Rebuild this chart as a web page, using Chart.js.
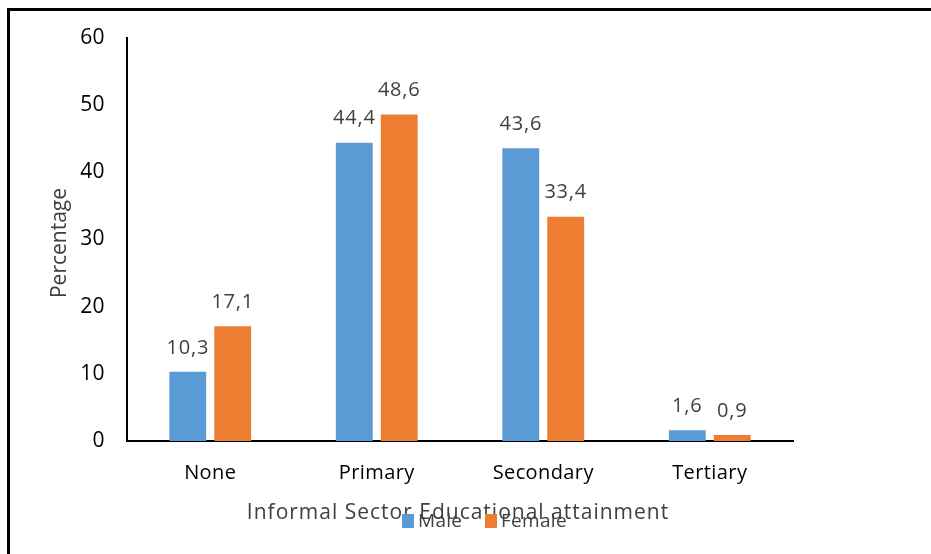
<!DOCTYPE html>
<html>
<head>
<meta charset="utf-8">
<script src="https://cdn.jsdelivr.net/npm/chart.js@4"></script>
<style>
  html, body { margin: 0; padding: 0; background: #fff; }
  #wrap { position: relative; width: 931px; height: 554px; overflow: hidden; }
  #frame { position: absolute; left: 7px; top: 8px; width: 1000px; height: 1000px; border: 3px solid #000; }
  canvas { position: absolute; left: 0; top: 0; }
</style>
</head>
<body>
<div id="wrap">
  <div id="frame"></div>
  <canvas id="chart" width="931" height="554"></canvas>
</div>
<script>
// ─── Data ──────────────────────────────────────
var categories = ['None', 'Primary', 'Secondary', 'Tertiary'];
var maleValues = [10.3, 44.4, 43.6, 1.6];
var femaleValues = [17.1, 48.6, 33.4, 0.9];
var yTicks = [0, 10, 20, 30, 40, 50, 60];
var seriesNames = ['Male', 'Female'];

var FONT = '"Open Sans", Lato, sans-serif';
var BLUE = '#5B9BD5';
var ORANGE = '#ED7D31';

function fmt(v) { return String(v).replace('.', ','); }

// Value labels, axis titles and the legend drawn on top
var decor = {
  id: 'decor',
  beforeDraw: function (chart) {
    // a little extra spacing, like the original's rendered text
    chart.ctx.letterSpacing = '0.4px';
  },
  afterDatasetsDraw: function (chart) {
    var ctx = chart.ctx;
    ctx.save();
    ctx.letterSpacing = '0.8px';
    ctx.fillStyle = '#404040';
    ctx.font = '20px ' + FONT;
    ctx.textAlign = 'center';
    ctx.textBaseline = 'middle';
    chart.data.datasets.forEach(function (ds, i) {
      var meta = chart.getDatasetMeta(i);
      meta.data.forEach(function (bar, j) {
        ctx.fillText(fmt(ds.data[j]), bar.x, bar.y - 24);
      });
    });
    ctx.restore();
  },
  afterDraw: function (chart) {
    var ctx = chart.ctx;
    ctx.save();
    ctx.fillStyle = '#404040';
    ctx.textBaseline = 'middle';
    ctx.textAlign = 'center';
    ctx.letterSpacing = '1px';
    ctx.font = '21px ' + FONT;
    ctx.fillText('Informal Sector Educational attainment', 458, 513);

    ctx.save();
    ctx.translate(60, 243);
    ctx.rotate(-Math.PI / 2);
    ctx.letterSpacing = '0px';
    ctx.fillText('Percentage', 0, 0);
    ctx.restore();

    // legend
    ctx.letterSpacing = '0.3px';
    ctx.font = '19px ' + FONT;
    ctx.textAlign = 'left';
    var colors = [BLUE, ORANGE];
    var xs = [402, 485];
    for (var k = 0; k < seriesNames.length; k++) {
      ctx.fillStyle = colors[k];
      ctx.fillRect(xs[k], 514, 12, 14);
      ctx.fillStyle = '#404040';
      ctx.fillText(seriesNames[k], xs[k] + 16, 522);
    }
    ctx.restore();
  }
};

new Chart(document.getElementById('chart'), {
  type: 'bar',
  data: {
    labels: categories,
    datasets: [
      { label: seriesNames[0], data: maleValues, backgroundColor: BLUE },
      { label: seriesNames[1], data: femaleValues, backgroundColor: ORANGE }
    ]
  },
  options: {
    responsive: false,
    animation: false,
    events: [],
    layout: { padding: { left: 0, right: 138, top: 38, bottom: 0 } },
    datasets: { bar: { categoryPercentage: 0.54, barPercentage: 0.82 } },
    plugins: {
      legend: { display: false },
      tooltip: { enabled: false }
    },
    scales: {
      x: {
        grid: { display: false, drawTicks: false },
        border: { display: true, color: '#000', width: 2 },
        ticks: { color: '#000', font: { family: FONT, size: 20 }, padding: 20 },
        afterFit: function (s) { s.height = 113; }
      },
      y: {
        min: 0,
        max: 60,
        afterBuildTicks: function (s) { s.ticks = yTicks.map(function (v) { return { value: v }; }); },
        grid: { display: false, drawTicks: false },
        border: { display: true, color: '#000', width: 2 },
        ticks: { color: '#000', font: { family: FONT, size: 21 }, padding: 22 },
        afterFit: function (s) { s.width = 127; }
      }
    }
  },
  plugins: [decor]
});
</script>
</body>
</html>
